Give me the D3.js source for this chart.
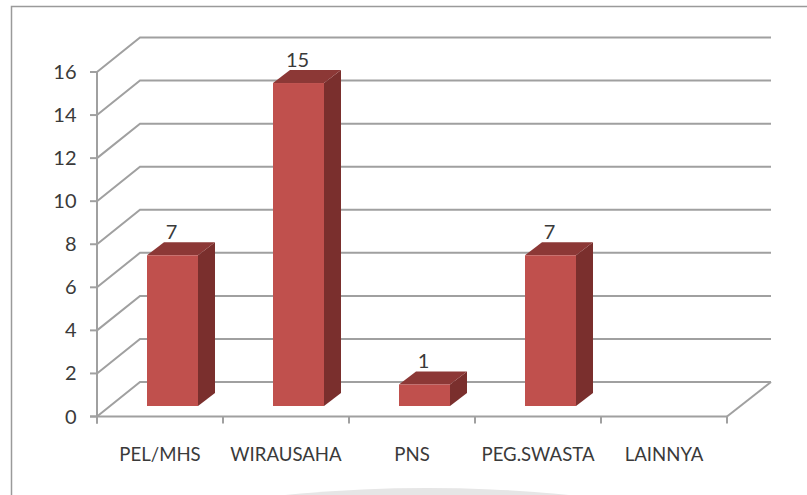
<!DOCTYPE html>
<html>
<head>
<meta charset="utf-8">
<script src="https://cdn.jsdelivr.net/npm/d3@7/dist/d3.min.js"></script>
<style>
  html, body { margin: 0; padding: 0; background: #fff; }
  svg { display: block; }
  text { font-family: Lato, "Open Sans", sans-serif; fill: #3a3a3a; }
</style>
</head>
<body>
<svg id="chart" width="807" height="495"></svg>
<script>
const categories = ["PEL/MHS", "WIRAUSAHA", "PNS", "PEG.SWASTA", "LAINNYA"];
const counts = [7, 15, 1, 7, null];
const yTicks = [0, 2, 4, 6, 8, 10, 12, 14, 16];

const svg = d3.select("#chart");
const gridColor = "#a0a0a0";

// Front plane of the pseudo-3D axes, and the offsets to the back wall and bar depth
const x = d3.scaleBand().domain(categories).range([97, 727]).paddingInner(0).paddingOuter(0);
const y = d3.scaleLinear().domain([0, 16]).range([416.5, 72]);
const wallDx = 43, wallDy = -34.5;
const barDx = 17, barDy = -13;
const barFrontDrop = -10.5;
const barShift = 12.5;
const barWidth = 51;

// Outer frame of the chart area
svg.append("path")
  .attr("d", "M11.5,495V6.5H807")
  .attr("fill", "none").attr("stroke", "#9a9a9a").attr("stroke-width", 1.5);

// Faint rounded shape peeking in at the bottom edge
svg.append("ellipse")
  .attr("cx", 427).attr("cy", 560).attr("rx", 330).attr("ry", 72)
  .attr("fill", "#e6e6e6");

// Back wall gridlines joined to the y axis by a slanted floor edge
const grid = svg.append("g").attr("fill", "none").attr("stroke", gridColor).attr("stroke-width", 2);
yTicks.forEach(t => {
  grid.append("path")
    .attr("d", d3.line()([
      [x.range()[0], y(t)],
      [x.range()[0] + wallDx, y(t) + wallDy],
      [x.range()[1] + wallDx + 1, y(t) + wallDy]
    ]));
});
grid.append("path")
  .attr("d", d3.line()([
    [x.range()[1], y(0)],
    [x.range()[1] + wallDx + 1, y(0) + wallDy]
  ]));

// Y axis and the floor's front edge, both with outward ticks
const axes = svg.append("g").attr("fill", "none").attr("stroke", gridColor).attr("stroke-width", 2);
axes.append("line")
  .attr("x1", x.range()[0]).attr("x2", x.range()[0])
  .attr("y1", y(16)).attr("y2", y(0) + 7);
axes.append("line")
  .attr("x1", x.range()[0] - 7).attr("x2", x.range()[1])
  .attr("y1", y(0)).attr("y2", y(0));
yTicks.forEach(t => {
  axes.append("line")
    .attr("x1", x.range()[0] - 7).attr("x2", x.range()[0])
    .attr("y1", y(t)).attr("y2", y(t));
});
[...categories.map(c => x(c)), x.range()[1]].forEach(px => {
  axes.append("line")
    .attr("x1", px).attr("x2", px)
    .attr("y1", y(0)).attr("y2", y(0) + 7);
});

// Tick labels
svg.append("g").selectAll("text").data(yTicks).join("text")
  .attr("x", 76.5).attr("y", d => y(d) + 7)
  .attr("text-anchor", "end").attr("font-size", 20)
  .text(d => d);

svg.append("g").selectAll("text").data(categories).join("text")
  .attr("x", d => x(d) + x.bandwidth() / 2)
  .attr("y", 461)
  .attr("text-anchor", "middle").attr("font-size", 18.6)
  .text(d => d);

// Bars: front, side and top faces, with the value above each
const bars = categories.map((c, i) => ({ c, v: counts[i] })).filter(d => d.v !== null);
const barLeft = d => x(d.c) + x.bandwidth() / 2 + barShift - barWidth / 2;
const barTop = d => y(d.v) + barFrontDrop;
const barBase = y(0) + barFrontDrop;

const barG = svg.append("g").selectAll("g").data(bars).join("g");

barG.append("path").attr("fill", "#7a2f2d").attr("d", d => {
  const r = barLeft(d) + barWidth;
  return d3.line()([[r, barTop(d)], [r + barDx, barTop(d) + barDy], [r + barDx, barBase + barDy], [r, barBase]]) + "Z";
});
barG.append("path").attr("fill", "#8c3836").attr("d", d => {
  const l = barLeft(d), r = l + barWidth, t = barTop(d);
  return d3.line()([[l, t], [l + barDx, t + barDy], [r + barDx, t + barDy], [r, t]]) + "Z";
});
barG.append("rect").attr("fill", "#c0504d")
  .attr("x", barLeft).attr("y", barTop)
  .attr("width", barWidth).attr("height", d => barBase - barTop(d));
barG.append("text")
  .attr("x", d => barLeft(d) + barWidth / 2 - 1)
  .attr("y", d => barTop(d) + barDy - 3)
  .attr("text-anchor", "middle").attr("font-size", 20)
  .text(d => d.v);
</script>
</body>
</html>
